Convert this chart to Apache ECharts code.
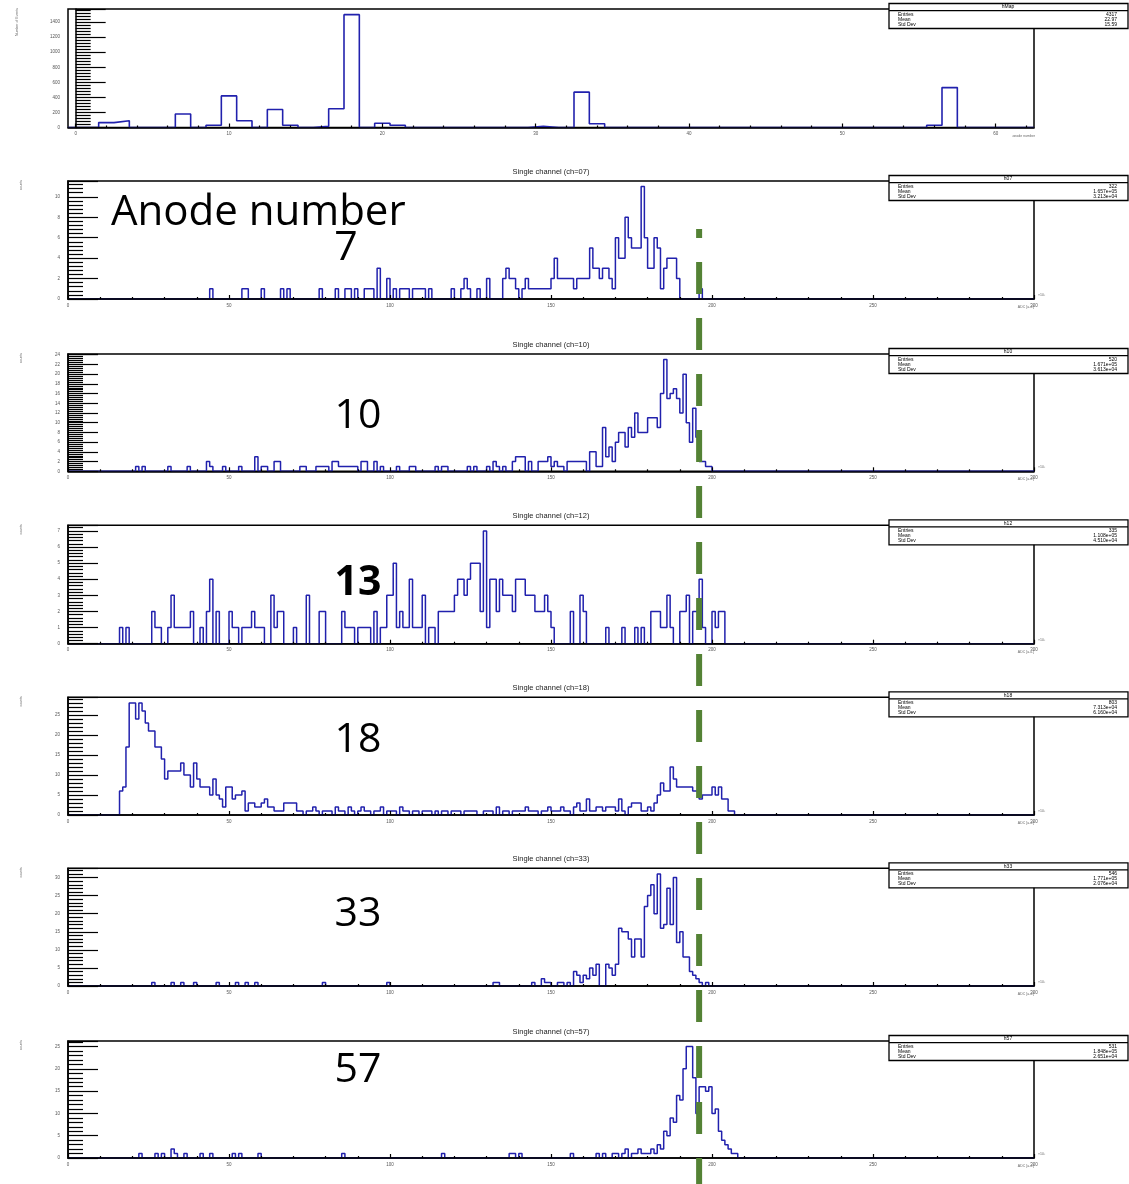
<!DOCTYPE html>
<html><head><meta charset="utf-8">
<script src="https://cdn.jsdelivr.net/npm/echarts@6/dist/echarts.min.js"></script>
<style>html,body{margin:0;padding:0;background:#fff}#c{width:1129px;height:1184px}</style>
</head><body><div id="c"></div>
<script>
// ---------------- DATA ----------------
// Top panel: events per anode number
const anodeBins   = [2, 3, 7, 9, 10, 11, 13, 14, 16, 17, 18, 20, 21, 30, 33, 34, 56, 57];
const anodeCounts = [65, 90, 180, 30, 420, 90, 240, 30, 15, 250, 1500, 57, 30, 15, 470, 50, 30, 530];
const anodeTicks  = [0, 10, 20, 30, 40, 50, 60];
const anodeYTicks = [0, 200, 400, 600, 800, 1000, 1200, 1400];
const anodeStats  = ['hMap', '4317', '22.97', '15.59'];

// Single channel spectra (bin width 1 in units of 10^3 ADC), first bin index + counts
const ch07Start = 44;
const ch07Counts = [1,0,0,0,0,0,0,0,0,0, 1,1,0,0,0,0,1,0,0,0, 0,0,1,0,1,0,0,0,0,0,
  0,0,0,0,1,0,0,0,0,1, 0,0,1,1,0,1,0,0,1,1, 1,0,3,0,0,2,0,1,0,1, 1,1,0,1,1,1,1,0,1,0,
  0,0,0,0,0,1,0,0,1,2, 1,0,0,1,0,0,2,0,0,0, 0,2,3,2,2,1,0,1,2,1, 1,1,1,1,1,1,2,4,2,2,
  2,2,2,1,2,2,2,2,5,3, 3,2,3,3,2,1,6,4,4,8, 6,5,5,5,11,6,3,3,6,5, 1,3,4,4,4,2,0,0,0,0, 0,0,1];
const ch10Start = 21;
const ch10Counts = [1,0,1,0,0,0,0,0,0,0, 1,0,0,0,0,0,1,0,0,0, 0,0,2,1,0,0,0,1,0,0,
  0,0,1,0,0,0,0,3,0,1, 1,0,0,2,2,0,0,0,0,0, 0,1,1,0,0,0,1,1,1,1, 0,2,2,1,1,1,1,1,1,0,
  2,2,0,0,2,0,1,0,0,0, 0,1,0,0,0,1,1,0,0,0, 0,0,0,1,0,1,1,0,0,0, 0,0,0,1,0,1,0,0,0,1,
  0,2,1,0,1,0,0,2,3,3, 3,0,2,0,0,2,2,2,3,1, 2,1,1,0,2,2,2,2,2,2, 0,4,4,1,1,9,3,5,2,6,
  8,8,5,9,7,12,8,8,8,11, 11,11,9,16,23,15,16,17,15,12, 20,10,6,13,7,2,2,1,1];
const ch12Start = 16;
const ch12Counts = [1,0,1,0,0,0,0,0,0,0, 2,1,1,0,0,1,3,1,1,1, 1,1,2,0,0,1,0,2,4,0,
  2,0,0,0,2,1,1,0,1,1, 1,2,1,1,1,0,0,3,1,2, 2,0,0,0,1,0,0,0,3,0, 0,0,2,2,0,0,0,0,0,2,
  1,1,1,0,1,1,1,1,0,2, 0,1,1,3,3,5,1,2,1,1, 4,1,1,1,3,0,1,1,0,2, 2,2,2,2,3,4,4,3,4,5,
  5,5,2,7,1,4,4,2,4,3, 3,3,2,4,4,4,3,3,3,2, 2,2,3,2,1,0,0,0,0,0, 2,0,0,3,2,0,0,0,0,0,
  0,1,0,0,0,0,1,0,0,0, 1,0,1,0,0,2,2,2,1,1, 3,1,0,0,2,2,3,0,2,2, 4,1,0,0,2,1,2,2];
const ch18Start = 16;
const ch18Counts = [6,7,17,28,28,24,28,26,23,21, 21,17,17,14,9,11,11,11,11,13, 10,10,7,13,9,7,7,7,5,9,
  5,4,2,7,7,4,5,5,6,1, 3,3,2,2,3,4,2,2,1,1, 1,3,3,3,3,1,1,0,1,1, 2,1,0,1,1,1,0,2,1,1,
  0,2,1,0,1,2,1,1,0,1, 1,2,0,1,1,1,0,2,1,1, 0,1,1,0,1,1,1,0,1,0, 1,1,0,1,1,1,0,1,1,1,
  1,0,0,1,1,1,0,2,0,1, 1,0,1,1,1,1,2,1,1,1, 0,1,1,2,1,1,1,2,1,1, 0,2,3,1,1,4,1,1,2,2,
  1,2,2,2,1,4,1,0,2,3, 3,3,1,1,2,1,3,5,8,6, 6,12,9,7,7,7,7,7,6,6, 4,5,5,5,7,5,7,4,4,1,1];
const ch33Start = 26;
const ch33Counts = [1,0,0,0,0,0,1,0,0,1, 0,0,0,1,0,0,0,0,0,0, 1,0,0,0,0,0,1,0,0,1,
  0,0,1,0,0,0,0,0,0,0, 0,0,0,0,0,0,0,0,0,0, 0,0,0,1,0,0,0,0,0,0, 0,0,0,0,0,0,0,0,0,0,
  0,0,0,1,0,0,0,0,0,0, 0,0,0,0,0,0,0,0,0,0, 0,0,0,0,0,0,0,0,0,0, 0,0,0,0,0,0,1,1,0,0,
  0,0,0,0,0,0,0,0,1,0, 0,2,1,1,0,0,1,1,0,1, 0,4,3,1,3,2,5,3,6,0, 0,6,5,3,6,16,15,15,13,8,
  13,13,8,22,25,28,20,31,16,17, 27,17,30,12,15,8,8,4,3,2, 1,0,1];
const ch57Start = 22;
const ch57Counts = [1,0,0,0,0,1,0,1,0,0, 2,1,0,0,1,0,0,0,0,1, 0,0,1,0,0,0,0,0,0,1,
  0,1,0,0,0,0,0,1,0,0, 0,0,0,0,0,0,0,0,0,0, 0,0,0,0,0,0,0,0,0,0, 0,0,0,1,0,0,0,0,0,0,
  0,0,0,0,0,0,0,0,0,0, 0,0,0,0,0,0,0,0,0,0, 0,0,0,0,1,0,0,0,0,0, 0,0,0,0,0,0,0,0,0,0,
  0,0,0,0,0,1,1,0,1,0, 0,0,0,0,0,0,0,0,0,0, 0,0,0,0,1,0,0,0,0,0, 0,0,1,0,1,0,0,1,1,0,
  1,2,0,1,1,2,1,1,1,2, 1,3,2,6,5,9,8,14,13,20, 25,25,18,10,16,16,15,16,10,11, 6,4,3,2,1,1];

const chStarts  = [ch07Start, ch10Start, ch12Start, ch18Start, ch33Start, ch57Start];
const chCounts  = [ch07Counts, ch10Counts, ch12Counts, ch18Counts, ch33Counts, ch57Counts];
const chLabels  = ['7', '10', '13', '18', '33', '57'];
const chTitles  = ['Single channel (ch=07)', 'Single channel (ch=10)', 'Single channel (ch=12)',
                   'Single channel (ch=18)', 'Single channel (ch=33)', 'Single channel (ch=57)'];
const chHist    = ['h07', 'h10', 'h12', 'h18', 'h33', 'h57'];
const chEntries = ['322', '520', '335', '803', '546', '531'];
const chMeans   = ['1.657e+05', '1.671e+05', '1.108e+05', '7.313e+04', '1.771e+05', '1.848e+05'];
const chStds    = ['3.213e+04', '3.613e+04', '4.510e+04', '6.160e+04', '2.076e+04', '2.651e+04'];
const chYSteps  = [2, 2, 1, 5, 5, 5];
const adcStep   = 50;
const cutAdc    = 196;
const nAdcBins  = 300;

// ---------------- LAYOUT ----------------
const FL = 68, FW = 966;
const topFrame = { top: 9, h: 118.5 };
const chFrameTop = [181, 354, 525.3, 697.3, 868.3, 1041];
const chFrameH   = [118, 117.3, 118.4, 117.7, 117.7, 117];
const chLabelPos = [[346, 248], [358, 416], [358, 583], [358, 740], [358, 914], [358, 1070]];
const FONT = '"Liberation Sans", Arial, sans-serif';
const BLUE = '#2121ad';
const GREEN = '#548235';

function outline(lo, w, counts) {
  const pts = [[lo[0], 0]];
  for (let i = 0; i < counts.length; i++) {
    pts.push([lo[i], counts[i]], [lo[i] + w, counts[i]]);
  }
  pts.push([lo[counts.length - 1] + w, 0]);
  return pts;
}

const grids = [], xAxes = [], yAxes = [], series = [], graphics = [];

function txt(x, y, text, size, opts) {
  opts = opts || {};
  const el = {
    type: 'text', x: x, y: y, z: 101, rotation: opts.rotation || 0,
    style: {
      text: text, font: (opts.weight || 'normal') + ' ' + size + 'px ' + (opts.family || FONT),
      fill: opts.color || '#000',
      align: opts.align || 'left', verticalAlign: opts.valign || 'middle',
      textAlign: opts.align || 'left', textVerticalAlign: opts.valign || 'middle'
    }
  };
  graphics.push(el);
}

function statsBox(ft, name, e, m, s) {
  graphics.push({ type: 'rect', z: 100, shape: { x: 889, y: ft - 5.5, width: 239, height: 25 },
    style: { fill: '#fff', stroke: '#000', lineWidth: 1.3 } });
  graphics.push({ type: 'line', z: 100, shape: { x1: 889, y1: ft + 1.6, x2: 1128, y2: ft + 1.6 },
    style: { stroke: '#000', lineWidth: 1.2 } });
  txt(1008, ft - 2, name, 5, { align: 'center' });
  const rows = [['Entries', e], ['Mean', m], ['Std Dev', s]];
  rows.forEach((r, i) => {
    txt(898, ft + 5.5 + i * 5, r[0], 5);
    txt(1117, ft + 5.5 + i * 5, r[1], 5, { align: 'right' });
  });
}

const plainNum = v => String(Math.round(v * 1000) / 1000);

function yAxisCfg(gi, max, step) {
  return {
    gridIndex: gi, type: 'value', min: 0, max: max, interval: step, z: 5,
    axisLine: { show: true, lineStyle: { color: '#000', width: 1.5 } },
    axisTick: { show: true, inside: true, length: 30, lineStyle: { color: '#000', width: 1.2 } },
    minorTick: { show: true, splitNumber: 5, length: 15, lineStyle: { color: '#000', width: 1.2 } },
    axisLabel: { show: true, fontSize: 4.5, color: '#555', margin: 8, fontFamily: FONT, showMaxLabel: false, formatter: plainNum },
    splitLine: { show: false }, minorSplitLine: { show: false }
  };
}

// ---- top panel ----
grids.push({ left: FL, width: FW, top: topFrame.top, height: topFrame.h, show: true,
  borderColor: '#000', borderWidth: 1.5, backgroundColor: 'transparent', containLabel: false, outerBoundsMode: 'none' });
const anodeMinor = [];
for (let v = 2; v <= 62; v += 2) if (v % 10 !== 0) anodeMinor.push(v);
xAxes.push({ gridIndex: 0, type: 'value', min: -0.5, max: 62.5, z: 5, position: 'bottom',
  axisLine: { show: true, onZero: false, lineStyle: { color: '#000', width: 1.5 } },
  axisTick: { show: true, inside: true, length: 4, customValues: anodeTicks, lineStyle: { color: '#000', width: 1.2 } },
  axisLabel: { show: true, customValues: anodeTicks, fontSize: 4.5, color: '#555', margin: 4, fontFamily: FONT, formatter: plainNum },
  splitLine: { show: false } });
xAxes.push({ gridIndex: 0, type: 'value', min: -0.5, max: 62.5, z: 5, position: 'bottom', offset: 0,
  axisLine: { show: false },
  axisTick: { show: true, inside: true, length: 2, customValues: anodeMinor, lineStyle: { color: '#000', width: 1.2 } },
  axisLabel: { show: false }, splitLine: { show: false } });
const anodeYMax = Math.max(...anodeCounts) * 1.05;
yAxes.push(yAxisCfg(0, anodeYMax, anodeYTicks[1] - anodeYTicks[0]));
const anodeDense = new Array(63).fill(0);
anodeBins.forEach((b, i) => { anodeDense[b] = anodeCounts[i]; });
series.push({ type: 'line', xAxisIndex: 0, yAxisIndex: 0, symbol: 'none', silent: true,
  data: outline(anodeDense.map((_, i) => i - 0.5), 1, anodeDense),
  lineStyle: { color: BLUE, width: 1.6 } });
statsBox(topFrame.top, anodeStats[0], anodeStats[1], anodeStats[2], anodeStats[3]);
txt(17, topFrame.top - 1, 'Number of Events', 3.5, { rotation: Math.PI / 2, align: 'right', color: '#666' });
txt(1035, topFrame.top + topFrame.h + 9, 'anode number', 3.5, { align: 'right', color: '#666' });

// ---- channel panels ----
for (let p = 0; p < 6; p++) {
  const gi = p + 1;
  const ft = chFrameTop[p], fh = chFrameH[p];
  grids.push({ left: FL, width: FW, top: ft, height: fh, show: true,
    borderColor: '#000', borderWidth: 1.5, backgroundColor: 'transparent', containLabel: false, outerBoundsMode: 'none' });
  xAxes.push({ gridIndex: gi, type: 'value', min: 0, max: nAdcBins, interval: adcStep, z: 5, position: 'bottom',
    axisLine: { show: true, onZero: false, lineStyle: { color: '#000', width: 1.5 } },
    axisTick: { show: true, inside: true, length: 4, lineStyle: { color: '#000', width: 1.2 } },
    minorTick: { show: true, splitNumber: 5, length: 2, lineStyle: { color: '#000', width: 1.2 } },
    axisLabel: { show: true, fontSize: 4.5, color: '#555', margin: 4, fontFamily: FONT, formatter: plainNum },
    splitLine: { show: false }, minorSplitLine: { show: false } });
  const counts = chCounts[p];
  const ymax = Math.max(...counts) * 1.05;
  yAxes.push(yAxisCfg(gi, ymax, chYSteps[p]));
  const dense = new Array(nAdcBins).fill(0);
  counts.forEach((c, i) => { dense[chStarts[p] + i] = c; });
  series.push({ type: 'line', xAxisIndex: gi + 1, yAxisIndex: gi, symbol: 'none', silent: true,
    data: outline(dense.map((_, i) => i), 1, dense),
    lineStyle: { color: BLUE, width: 1.5 } });
  statsBox(ft, chHist[p], chEntries[p], chMeans[p], chStds[p]);
  txt(FL + FW / 2, ft - 9.5, chTitles[p], 7.5, { align: 'center', color: '#222' });
  txt(21, ft - 1, 'counts', 3.5, { rotation: Math.PI / 2, align: 'right', color: '#666' });
  const base = ft + fh;
  txt(1034, base + 8, 'ADC [a.u.]', 3.5, { align: 'right', color: '#666' });
  txt(1038, base - 4, '\u00d710\u00b3', 3.5, { align: 'left', color: '#666' });
  txt(chLabelPos[p][0], chLabelPos[p][1], chLabels[p], 41,
    { align: 'center', family: '"Open Sans", "Noto Sans", sans-serif', weight: p === 2 ? 'bold' : 'normal' });
}
txt(111, 213, 'Anode number', 42, { align: 'left', family: '"Open Sans", "Noto Sans", sans-serif' });

// ---- cut line (green dashed), spanning channel panels ----
const cutGrid = grids.length;
grids.push({ left: FL, width: FW, top: 229, height: 955, show: false, containLabel: false, outerBoundsMode: 'none' });
xAxes.push({ gridIndex: cutGrid, type: 'value', min: 0, max: nAdcBins, show: false });
yAxes.push({ gridIndex: cutGrid, type: 'value', min: 0, max: 1, show: false });
series.push({ type: 'line', xAxisIndex: xAxes.length - 1, yAxisIndex: yAxes.length - 1, symbol: 'none', silent: true, z: 10,
  data: [[cutAdc, 1], [cutAdc, 0]],
  lineStyle: { color: GREEN, width: 6, type: [32, 24], dashOffset: 23, cap: 'butt' } });

const chart = echarts.init(document.getElementById('c'), null, { renderer: 'canvas', width: 1129, height: 1184 });
chart.setOption({
  animation: false,
  backgroundColor: '#fff',
  grid: grids, xAxis: xAxes, yAxis: yAxes, series: series,
  graphic: { elements: graphics }
});
</script></body></html>
